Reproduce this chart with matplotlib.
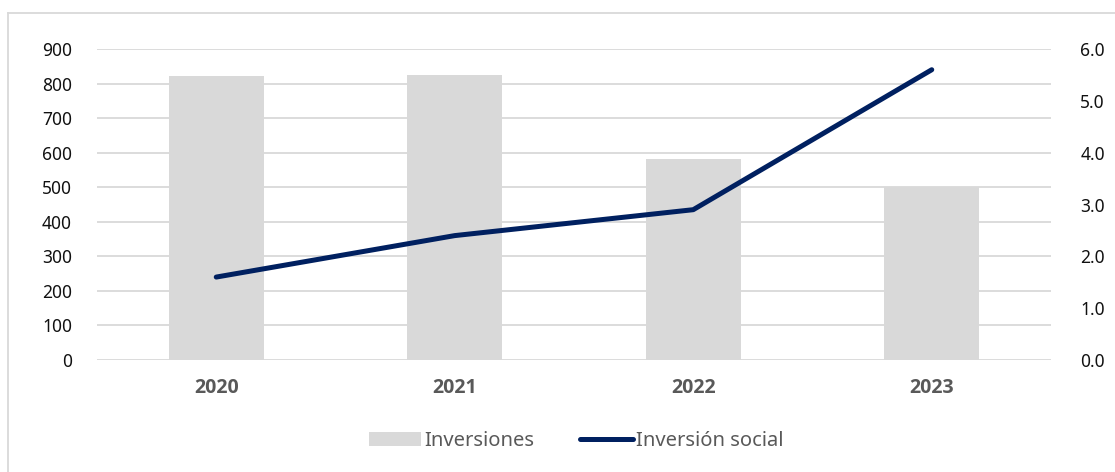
import matplotlib
matplotlib.use("Agg")
import matplotlib.pyplot as plt
from matplotlib.patches import Patch
from matplotlib.lines import Line2D

years = ["2020", "2021", "2022", "2023"]
inversiones = [821, 826, 582, 502]
inversion_social = [1.6, 2.4, 2.9, 5.6]
left_ticks = [0, 100, 200, 300, 400, 500, 600, 700, 800, 900]
right_ticks = [0.0, 1.0, 2.0, 3.0, 4.0, 5.0, 6.0]

plt.rcParams['font.family'] = ['Noto Sans', 'DejaVu Sans']

fig = plt.figure(figsize=(11.15, 4.72), dpi=100)
ax = fig.add_axes([97/1115, 1-360/472, (1051-97)/1115, (360-49)/472])
x = list(range(len(years)))
bar_color = "#d9d9d9"
line_color = "#002060"
grid_color = "#d9d9d9"

ax.set_axisbelow(True)
ax.bar(x, inversiones, width=0.4, color=bar_color, zorder=2)
ax.set_ylim(0, 900)
ax.set_xlim(-0.5, len(years)-0.5)
ax.set_yticks(left_ticks)
ax.set_yticklabels([str(v) for v in left_ticks])
ax.yaxis.grid(True, color=grid_color, linewidth=1.3, zorder=0)
ax.set_xticks(x)
ax.set_xticklabels(years)
for lbl in ax.get_xticklabels():
    lbl.set_family(['Open Sans', 'DejaVu Sans'])
    lbl.set_fontweight('bold')
    lbl.set_color('#595959')
    lbl.set_fontsize(14)
ax.tick_params(axis="y", length=0, pad=18, labelsize=12.5, labelcolor="#111111")
ax.tick_params(axis="x", length=0, pad=13)
for s in ax.spines.values():
    s.set_visible(False)

ax2 = ax.twinx()
ax2.plot(x, inversion_social, color=line_color, linewidth=3.6, solid_capstyle="round", zorder=3)
ax2.set_ylim(0, 6)
ax2.set_yticks(right_ticks)
ax2.set_yticklabels([f"{v:.1f}" for v in right_ticks])
ax2.tick_params(axis="y", length=0, pad=21, labelsize=12.5, labelcolor="#111111")
for s in ax2.spines.values():
    s.set_visible(False)

handles = [Patch(facecolor=bar_color, edgecolor="none"),
           Line2D([0], [0], color=line_color, linewidth=3.6, solid_capstyle="round")]
leg = fig.legend(handles, ["Inversiones", "Inversión social"], loc="center",
                 bbox_to_anchor=(576/1115, 1-441/472), ncol=2, frameon=False,
                 fontsize=14.5, handlelength=2.6, handletextpad=0.15, columnspacing=2.3)
for t in leg.get_texts():
    t.set_color("#595959")

# outer chart border
fig.add_artist(Line2D([7.5/1115, 7.5/1115], [0, 1-13/472], color="#d9d9d9", linewidth=1.3, transform=fig.transFigure))
fig.add_artist(Line2D([7.5/1115, 1], [1-13/472, 1-13/472], color="#d9d9d9", linewidth=1.3, transform=fig.transFigure))

fig.savefig("out.png", dpi=100)
